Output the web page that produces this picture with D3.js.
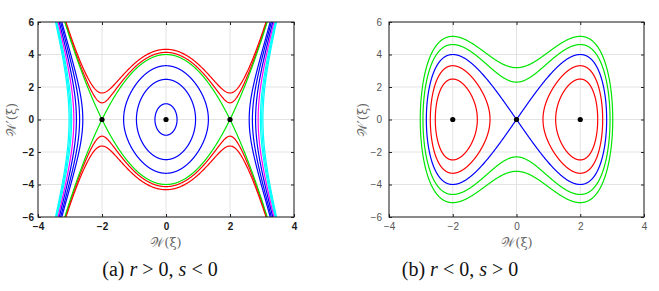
<!DOCTYPE html>
<html lang="en">
<head>
<meta charset="utf-8">
<title>Phase portraits</title>
<style>
  body { margin: 0; background: #fff; }
  .cap { font-family: "Liberation Serif", Times, "DejaVu Serif"; font-size: 20px; fill: #111; }
  .tick text { font-family: "Liberation Sans", Arial, sans-serif; font-size: 10px; }
  .lab { font-family: "DejaVu Serif", serif; font-size: 13px; fill: #666; }
</style>
</head>
<body>
<svg id="chart" width="659" height="291"></svg>
<script src="https://cdn.jsdelivr.net/npm/d3@7"></script>
<script>
// tick labels
const xTicks = [-4, -2, 0, 2, 4]
const yTicks = [-6, -4, -2, 0, 2, 4, 6]

// (a) r > 0, s < 0   potential V(W) = 4W^2 - W^4/2  (saddles at W = ±2)
const aBlueInnerY = [0.97, 2.47, 3.31]   // closed orbits, W' read at W = 0
const aGreenY = [4.0]                    // separatrix, W' at W = 0
const aRedY = [4.13, 4.32]               // W' at W = 0
const aBlueOuterX = [2.6, 2.7, 2.8]      // W read where W' = 0
const aMagentaX = [2.88]
const aCyanX = [2.95, 2.99, 3.03]
const aPoints = [[-2, 0], [0, 0], [2, 0]]

// (b) r < 0, s > 0   potential V(W) = -4W^2 + W^4/2  (centres at W = ±2)
const bRedY = [2.49, 3.31]               // W' read at W = ±2
const bBlueY = [4.0]                     // separatrix, W' at W = ±2
const bGreenY = [2.3, 3.19]              // W' at W = 0
const bPoints = [[-2, 0], [0, 0], [2, 0]]

const Va = w => 4 * w * w - w ** 4 / 2
const Vb = w => -4 * w * w + w ** 4 / 2

const svg = d3.select("#chart")

// level set y^2/2 + V(x) = H, returned as closed rings of [x, y]
function orbits(V, H, keep) {
  const lo = -4.6, hi = 4.6, n = 2300, dx = (hi - lo) / n
  const f = x => H - V(x)
  const out = []
  let start = null
  for (let i = 0; i <= n; i++) {
    const x = lo + dx * i
    const ok = f(x) >= -1e-9
    if (ok && start === null) start = i
    if ((!ok || i === n) && start !== null) {
      const end = ok ? i : i - 1
      let a = lo + dx * start, b = lo + dx * end
      const ra = start > 0, rb = !ok
      if (ra) a = root(f, a - dx, a)
      if (rb) b = root(f, b + dx, b)
      if (keep((a + b) / 2)) out.push(ring(f, a, b, ra, rb))
      start = null
    }
  }
  return out
}

function root(f, neg, pos) {
  for (let k = 0; k < 60; k++) {
    const m = (neg + pos) / 2
    if (f(m) >= 0) pos = m; else neg = m
  }
  return pos
}

function ring(f, a, b, ra, rb) {
  const m = 600, xs = []
  for (let k = 0; k <= m; k++) {
    const t = k / m
    let u
    if (ra && rb) u = (1 - Math.cos(Math.PI * t)) / 2
    else if (ra) u = 1 - Math.cos(Math.PI * t / 2)
    else if (rb) u = Math.sin(Math.PI * t / 2)
    else u = t
    xs.push(a + (b - a) * u)
  }
  const h = x => Math.sqrt(2 * Math.max(f(x), 0))
  const up = xs.map(x => [x, h(x)])
  const down = xs.slice().reverse().map(x => [x, -h(x)])
  return up.concat(down)
}

function panel(cfg) {
  const x = d3.scaleLinear().domain([-4, 4]).range([cfg.left, cfg.right])
  const y = d3.scaleLinear().domain([-6, 6]).range([cfg.bottom, cfg.top])
  const w = cfg.right - cfg.left, hgt = cfg.bottom - cfg.top
  const g = svg.append("g")

  // grid
  g.append("g").selectAll("line").data(xTicks).join("line")
    .attr("x1", d => x(d)).attr("x2", d => x(d))
    .attr("y1", cfg.top).attr("y2", cfg.bottom)
    .attr("stroke", "#e3e3e3")
  g.append("g").selectAll("line").data(yTicks).join("line")
    .attr("y1", d => y(d)).attr("y2", d => y(d))
    .attr("x1", cfg.left).attr("x2", cfg.right)
    .attr("stroke", "#e3e3e3")

  const clipId = "clip" + cfg.id
  svg.append("clipPath").attr("id", clipId).append("rect")
    .attr("x", cfg.left).attr("y", cfg.top).attr("width", w).attr("height", hgt)

  const line = d3.line().x(d => x(d[0])).y(d => y(d[1]))
  const curves = g.append("g").attr("clip-path", `url(#${clipId})`)
  cfg.sets.forEach(s => {
    s.levels.forEach(H => {
      orbits(cfg.V, H, s.keep).forEach(r => {
        curves.append("path")
          .attr("d", line(r) + "Z")
          .attr("fill", "none")
          .attr("stroke", s.color)
          .attr("stroke-width", 1.2)
      })
    })
  })

  g.append("g").selectAll("circle").data(cfg.points).join("circle")
    .attr("cx", d => x(d[0])).attr("cy", d => y(d[1])).attr("r", 2.6)
    .attr("fill", "#000")

  // axes with inward ticks
  const font = sel => sel.selectAll("text")
    .attr("font-family", null).attr("font-size", null)
    .style("font-weight", cfg.bold ? "bold" : "normal")
    .attr("fill", cfg.bold ? "#1a1a1a" : "#555")
  const xAxis = d3.axisBottom(x).tickValues(xTicks).tickSizeInner(-3).tickSizeOuter(0).tickPadding(6)
  const yAxis = d3.axisLeft(y).tickValues(yTicks).tickSizeInner(-3).tickSizeOuter(0).tickPadding(cfg.ypad)
  g.append("g").attr("transform", `translate(0,${cfg.bottom})`).call(xAxis).call(font)
  g.append("g").attr("transform", `translate(${cfg.left},0)`).call(yAxis).call(font)
  g.append("g").attr("transform", `translate(0,${cfg.top})`)
    .call(d3.axisTop(x).tickValues(xTicks).tickSizeInner(-3).tickSizeOuter(0).tickFormat(""))
  g.append("g").attr("transform", `translate(${cfg.right},0)`)
    .call(d3.axisRight(y).tickValues(yTicks).tickSizeInner(-3).tickSizeOuter(0).tickFormat(""))
  g.selectAll(".domain").remove()
  g.selectAll(".tick line").attr("stroke", "#222")

  g.append("rect").attr("x", cfg.left).attr("y", cfg.top)
    .attr("width", w).attr("height", hgt)
    .attr("fill", "none").attr("stroke", "#222").attr("stroke-width", 1)

  // axis labels
  g.append("text").attr("class", "lab").attr("x", cfg.xlab).attr("y", 247)
    .attr("text-anchor", "middle")
    .text("𝒲(ξ)")
  g.append("text").attr("class", "lab")
    .attr("transform", `translate(${cfg.ylab},120) rotate(-90)`)
    .attr("text-anchor", "middle")
    .text("𝒲′(ξ)")

  // caption
  const cap = g.append("text").attr("class", "cap").attr("x", cfg.capx).attr("y", 276)
    .attr("text-anchor", "middle")
  cap.append("tspan").text(cfg.tag + " ")
  cap.append("tspan").style("font-style", "italic").text("r")
  cap.append("tspan").text(cfg.rel[0])
  cap.append("tspan").style("font-style", "italic").text("s")
  cap.append("tspan").text(cfg.rel[1])
}

const inner = w => Math.abs(w) < 2
const outer = w => Math.abs(w) > 2
const all = () => true

panel({
  id: "a", left: 38, right: 294, top: 22, bottom: 217, ypad: 4, bold: true,
  xlab: 166, ylab: 16, capx: 160, tag: "(a)", rel: [" > 0, ", " < 0"],
  V: Va, points: aPoints,
  sets: [
    { color: "#00ffff", keep: outer, levels: aCyanX.map(Va) },
    { color: "#ff00ff", keep: outer, levels: aMagentaX.map(Va) },
    { color: "#0000ff", keep: outer, levels: aBlueOuterX.map(Va) },
    { color: "#0000ff", keep: inner, levels: aBlueInnerY.map(v => v * v / 2 + Va(0)) },
    { color: "#ff0000", keep: all, levels: aRedY.map(v => v * v / 2 + Va(0)) },
    { color: "#00e600", keep: all, levels: aGreenY.map(v => v * v / 2 + Va(0)) }
  ]
})

panel({
  id: "b", left: 389, right: 644, top: 22, bottom: 217, ypad: 7, bold: false,
  xlab: 517, ylab: 367, capx: 460, tag: "(b)", rel: [" < 0, ", " > 0"],
  V: Vb, points: bPoints,
  sets: [
    { color: "#ff0000", keep: all, levels: bRedY.map(v => v * v / 2 + Vb(2)) },
    { color: "#0000ff", keep: all, levels: bBlueY.map(v => v * v / 2 + Vb(2)) },
    { color: "#00e600", keep: all, levels: bGreenY.map(v => v * v / 2 + Vb(0)) }
  ]
})
</script>
</body>
</html>
